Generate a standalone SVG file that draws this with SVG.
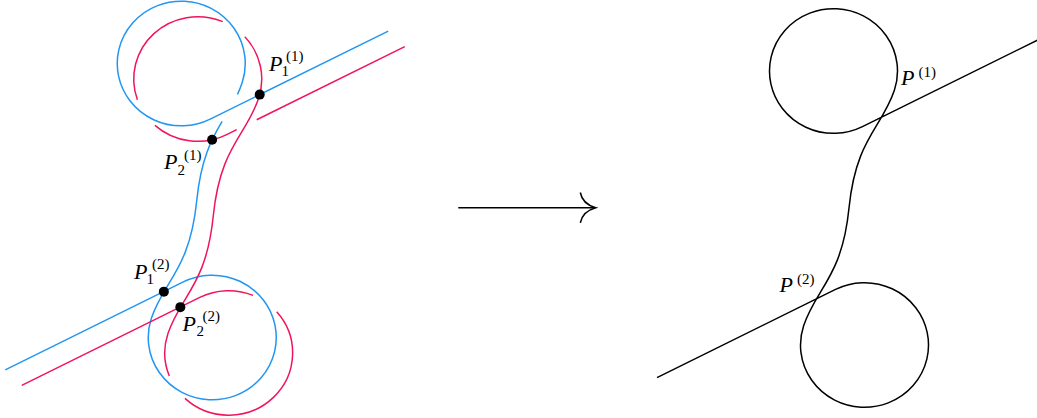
<svg xmlns="http://www.w3.org/2000/svg" width="1037" height="418" viewBox="0 0 1037 418">
<style>
.k{fill:none;stroke:#000;stroke-width:1.5}
.b{fill:none;stroke:#2196F3;stroke-width:1.5}
.r{fill:none;stroke:#F0145A;stroke-width:1.5}
.dot{fill:#000}
.P{font-family:"Liberation Serif","DejaVu Serif",serif;font-style:italic;font-size:22px;fill:#000}
.s{font-family:"Liberation Serif","DejaVu Serif",serif;font-size:15px;fill:#000}
</style>
<rect width="1037" height="418" fill="#fff"/>
<g id="blue-curve" class="b" transform="translate(196.75,200.5)">
<path d="M191.5,-169.32 L13.45,-81.43 A64 62.3 0 1 1 45.37,-117.75 C43.98,-113.58 42.43,-109.74 40.76,-106.12"/>
<path d="M25.39,-79.08 C14.75,-61.47 4.11,-41.09 0,0 C-6.97,69.65 -32.70,79.81 -45.37,117.75 A64 62.3 0 1 0 -13.45,81.43 L-191.5,169.32"/>
</g>
<g id="red-curve" class="r" transform="translate(213.25,216)">
<path d="M191.5,-169.32 L43.45,-96.24"/>
<path d="M23.45,-86.37 L13.45,-81.43 A64 62.3 0 0 1 -58.29,-90.67"/>
<path d="M-75.85,-116.25 A64 62.3 0 0 1 9.48,-194.36"/>
<path d="M31.61,-179.17 A64 62.3 0 0 1 45.37,-117.75 C32.70,-79.81 6.97,-69.65 0,0 C-6.97,69.65 -32.70,79.81 -45.37,117.75 A64 62.3 0 0 0 -43.96,160.03"/>
<path d="M-28.31,182.41 A64 62.3 0 0 0 63.43,95.73"/>
<path d="M39.79,79.36 A64 62.3 0 0 0 -13.45,81.43 L-191.5,169.32"/>
</g>
<g id="points" class="dot">
<circle cx="259.7" cy="94.6" r="5"/>
<circle cx="212.1" cy="139.7" r="5"/>
<circle cx="163.85" cy="291.65" r="5"/>
<circle cx="180.35" cy="307.15" r="5"/>
</g>
<g id="labels-left">
<g id="label-P1-1"><text class="P" x="269" y="70.5">P</text><text class="s" x="281.5" y="75.5">1</text><text class="s" x="286" y="61">(1)</text></g>
<g id="label-P2-1"><text class="P" x="164" y="169">P</text><text class="s" x="177.5" y="174.5">2</text><text class="s" x="184" y="159.5">(1)</text></g>
<g id="label-P1-2"><text class="P" x="134" y="278.5">P</text><text class="s" x="146.5" y="283.5">1</text><text class="s" x="152" y="269">(2)</text></g>
<g id="label-P2-2"><text class="P" x="182.5" y="330.5">P</text><text class="s" x="196.5" y="335.5">2</text><text class="s" x="202.5" y="321">(2)</text></g>
</g>
<g id="connectors">
<g id="arrow" class="k">
<path d="M458.3,207.7 H595"/>
<path d="M580.3,192.5 C581.5,199 586,205 595.7,207.7 C586,210.4 581.5,216.4 580.3,222.9"/>
</g>
</g>
<g id="right-figure">
<path class="k" transform="translate(849,208)" d="M190,-168.58 L13.45,-81.43 A64 62.3 0 1 1 45.37,-117.75 C32.70,-79.81 6.97,-69.65 0,0 C-6.97,69.65 -32.70,79.81 -45.37,117.75 A64 62.3 0 1 0 -13.45,81.43 L-192,169.56"/>
<g id="label-P-1"><text class="P" x="901" y="84.5">P</text><text class="s" x="918.5" y="76.5">(1)</text></g>
<g id="label-P-2"><text class="P" x="779.5" y="291.5">P</text><text class="s" x="797" y="283.5">(2)</text></g>
</g>
</svg>
